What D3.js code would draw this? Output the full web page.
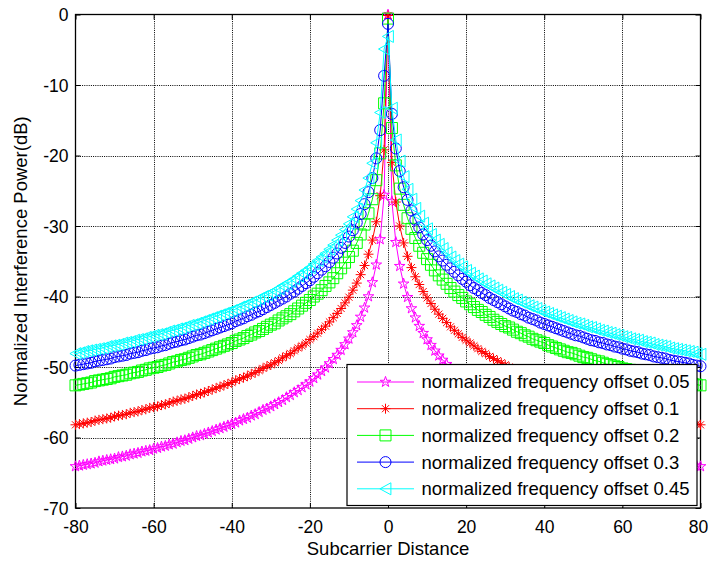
<!DOCTYPE html>
<html>
<head>
<meta charset="utf-8">
<script src="https://cdn.jsdelivr.net/npm/d3@7"></script>
<style>
  html, body { margin: 0; padding: 0; background: #fff; }
  svg { display: block; font-family: Arial, "Liberation Sans", Helvetica, sans-serif; }
</style>
</head>
<body>
<svg id="chart" width="708" height="561"></svg>
<script>
// Subcarrier distance k = -80 … 80 (one sample per subcarrier)
const subcarrierDistance = d3.range(-80, 81);

const xTicks = [-80, -60, -40, -20, 0, 20, 40, 60, 80];
const yTicks = [0, -10, -20, -30, -40, -50, -60, -70];

const seriesLabels = [
  "normalized frequency offset 0.05",
  "normalized frequency offset 0.1",
  "normalized frequency offset 0.2",
  "normalized frequency offset 0.3",
  "normalized frequency offset 0.45"
];
const seriesColors = ["#ff00ff", "#ff0000", "#00ff00", "#0000ff", "#00ffff"];
const seriesMarkers = ["pentagram", "asterisk", "square", "circle", "triangleLeft"];

// Interference power (dB) per subcarrier distance, k = -80 … 80
const offset005 = [
  -64.1, -64.0, -63.9, -63.8, -63.7, -63.6, -63.4, -63.3, -63.2, -63.1,   // -80 … -71
  -63.0, -62.8, -62.7, -62.6, -62.4, -62.3, -62.2, -62.0, -61.9, -61.8,   // -70 … -61
  -61.6, -61.5, -61.3, -61.2, -61.0, -60.9, -60.7, -60.5, -60.4, -60.2,   // -60 … -51
  -60.0, -59.8, -59.7, -59.5, -59.3, -59.1, -58.9, -58.7, -58.5, -58.3,   // -50 … -41
  -58.1, -57.9, -57.6, -57.4, -57.2, -56.9, -56.7, -56.4, -56.1, -55.9,   // -40 … -31
  -55.6, -55.3, -55.0, -54.7, -54.3, -54.0, -53.6, -53.3, -52.9, -52.5,   // -30 … -21
  -52.1, -51.6, -51.1, -50.6, -50.1, -49.5, -48.9, -48.3, -47.6, -46.8,   // -20 … -11
  -46.0, -45.1, -44.1, -42.9, -41.6, -40.0, -38.0, -35.5, -31.9, -25.6,   // -10 … -1
  -0.04,                                                                  // 0
  -26.5, -32.3, -35.7, -38.2, -40.1, -41.7, -43.0, -44.2, -45.2, -46.1,   // 1 … 10
  -46.9, -47.7, -48.4, -49.0, -49.6, -50.2, -50.7, -51.2, -51.7, -52.1,   // 11 … 20
  -52.5, -52.9, -53.3, -53.7, -54.0, -54.4, -54.7, -55.0, -55.3, -55.6,   // 21 … 30
  -55.9, -56.2, -56.4, -56.7, -56.9, -57.2, -57.4, -57.7, -57.9, -58.1,   // 31 … 40
  -58.3, -58.5, -58.7, -58.9, -59.1, -59.3, -59.5, -59.7, -59.9, -60.0,   // 41 … 50
  -60.2, -60.4, -60.5, -60.7, -60.9, -61.0, -61.2, -61.3, -61.5, -61.6,   // 51 … 60
  -61.8, -61.9, -62.0, -62.2, -62.3, -62.5, -62.6, -62.7, -62.8, -63.0,   // 61 … 70
  -63.1, -63.2, -63.3, -63.4, -63.6, -63.7, -63.8, -63.9, -64.0, -64.1    // 71 … 80
];

const offset01 = [
  -58.2, -58.1, -58.0, -57.9, -57.8, -57.6, -57.5, -57.4, -57.3, -57.2,
  -57.0, -56.9, -56.8, -56.7, -56.5, -56.4, -56.3, -56.1, -56.0, -55.8,
  -55.7, -55.6, -55.4, -55.3, -55.1, -54.9, -54.8, -54.6, -54.5, -54.3,
  -54.1, -53.9, -53.8, -53.6, -53.4, -53.2, -53.0, -52.8, -52.6, -52.4,
  -52.2, -51.9, -51.7, -51.5, -51.3, -51.0, -50.8, -50.5, -50.2, -49.9,
  -49.7, -49.4, -49.1, -48.7, -48.4, -48.1, -47.7, -47.3, -47.0, -46.6,
  -46.1, -45.7, -45.2, -44.7, -44.2, -43.6, -43.0, -42.4, -41.7, -40.9,
  -40.1, -39.1, -38.1, -36.9, -35.6, -34.0, -32.0, -29.4, -25.7, -19.2,
  -0.14,
  -21.0, -26.6, -30.0, -32.4, -34.3, -35.9, -37.2, -38.3, -39.3, -40.2,
  -41.0, -41.8, -42.5, -43.1, -43.7, -44.3, -44.8, -45.3, -45.8, -46.2,
  -46.6, -47.0, -47.4, -47.8, -48.1, -48.5, -48.8, -49.1, -49.4, -49.7,
  -50.0, -50.3, -50.5, -50.8, -51.0, -51.3, -51.5, -51.8, -52.0, -52.2,
  -52.4, -52.6, -52.8, -53.0, -53.2, -53.4, -53.6, -53.8, -54.0, -54.1,
  -54.3, -54.5, -54.6, -54.8, -55.0, -55.1, -55.3, -55.4, -55.6, -55.7,
  -55.9, -56.0, -56.1, -56.3, -56.4, -56.5, -56.7, -56.8, -56.9, -57.1,
  -57.2, -57.3, -57.4, -57.5, -57.7, -57.8, -57.9, -58.0, -58.1, -58.2
];

const offset02 = [
  -52.6, -52.5, -52.4, -52.3, -52.2, -52.0, -51.9, -51.8, -51.7, -51.6,
  -51.4, -51.3, -51.2, -51.1, -50.9, -50.8, -50.7, -50.5, -50.4, -50.2,
  -50.1, -50.0, -49.8, -49.7, -49.5, -49.3, -49.2, -49.0, -48.9, -48.7,
  -48.5, -48.3, -48.2, -48.0, -47.8, -47.6, -47.4, -47.2, -47.0, -46.8,
  -46.6, -46.3, -46.1, -45.9, -45.6, -45.4, -45.1, -44.9, -44.6, -44.3,
  -44.0, -43.8, -43.4, -43.1, -42.8, -42.5, -42.1, -41.7, -41.3, -40.9,
  -40.5, -40.0, -39.6, -39.1, -38.5, -38.0, -37.4, -36.7, -36.0, -35.2,
  -34.4, -33.5, -32.4, -31.2, -29.8, -28.2, -26.2, -23.5, -19.7, -12.6,
  -0.58,
  -16.1, -21.4, -24.7, -27.0, -28.9, -30.4, -31.7, -32.8, -33.8, -34.7,
  -35.5, -36.3, -37.0, -37.6, -38.2, -38.8, -39.3, -39.8, -40.2, -40.7,
  -41.1, -41.5, -41.9, -42.2, -42.6, -42.9, -43.3, -43.6, -43.9, -44.2,
  -44.4, -44.7, -45.0, -45.2, -45.5, -45.7, -46.0, -46.2, -46.4, -46.6,
  -46.9, -47.1, -47.3, -47.5, -47.7, -47.9, -48.0, -48.2, -48.4, -48.6,
  -48.7, -48.9, -49.1, -49.2, -49.4, -49.6, -49.7, -49.9, -50.0, -50.2,
  -50.3, -50.4, -50.6, -50.7, -50.8, -51.0, -51.1, -51.2, -51.4, -51.5,
  -51.6, -51.7, -51.9, -52.0, -52.1, -52.2, -52.3, -52.4, -52.5, -52.6
];

const offset03 = [
  -49.8, -49.7, -49.6, -49.5, -49.4, -49.2, -49.1, -49.0, -48.9, -48.8,
  -48.6, -48.5, -48.4, -48.3, -48.1, -48.0, -47.9, -47.7, -47.6, -47.4,
  -47.3, -47.2, -47.0, -46.9, -46.7, -46.5, -46.4, -46.2, -46.1, -45.9,
  -45.7, -45.5, -45.4, -45.2, -45.0, -44.8, -44.6, -44.4, -44.2, -44.0,
  -43.8, -43.5, -43.3, -43.1, -42.8, -42.6, -42.3, -42.1, -41.8, -41.5,
  -41.2, -40.9, -40.6, -40.3, -40.0, -39.6, -39.3, -38.9, -38.5, -38.1,
  -37.7, -37.2, -36.7, -36.2, -35.7, -35.1, -34.5, -33.9, -33.1, -32.4,
  -31.5, -30.6, -29.5, -28.3, -26.9, -25.2, -23.2, -20.4, -16.4, -8.7,
  -1.33,
  -14.1, -19.0, -22.2, -24.5, -26.3, -27.8, -29.1, -30.2, -31.2, -32.0,
  -32.8, -33.6, -34.3, -34.9, -35.5, -36.0, -36.5, -37.0, -37.5, -37.9,
  -38.4, -38.8, -39.1, -39.5, -39.8, -40.2, -40.5, -40.8, -41.1, -41.4,
  -41.7, -42.0, -42.2, -42.5, -42.7, -43.0, -43.2, -43.4, -43.7, -43.9,
  -44.1, -44.3, -44.5, -44.7, -44.9, -45.1, -45.3, -45.5, -45.6, -45.8,
  -46.0, -46.2, -46.3, -46.5, -46.6, -46.8, -46.9, -47.1, -47.2, -47.4,
  -47.5, -47.7, -47.8, -47.9, -48.1, -48.2, -48.3, -48.5, -48.6, -48.7,
  -48.8, -49.0, -49.1, -49.2, -49.3, -49.4, -49.5, -49.7, -49.8, -49.9
];

const offset045 = [
  -48.1, -48.0, -47.8, -47.7, -47.6, -47.5, -47.4, -47.3, -47.1, -47.0,
  -46.9, -46.8, -46.6, -46.5, -46.4, -46.2, -46.1, -46.0, -45.8, -45.7,
  -45.5, -45.4, -45.3, -45.1, -44.9, -44.8, -44.6, -44.5, -44.3, -44.1,
  -44.0, -43.8, -43.6, -43.4, -43.2, -43.0, -42.8, -42.6, -42.4, -42.2,
  -42.0, -41.8, -41.5, -41.3, -41.1, -40.8, -40.6, -40.3, -40.0, -39.8,
  -39.5, -39.2, -38.9, -38.5, -38.2, -37.9, -37.5, -37.1, -36.7, -36.3,
  -35.9, -35.4, -34.9, -34.4, -33.9, -33.3, -32.7, -32.0, -31.3, -30.5,
  -29.7, -28.7, -27.6, -26.4, -24.9, -23.2, -21.1, -18.2, -13.9, -4.9,
  -3.11,
  -13.3, -17.8, -20.8, -23.0, -24.8, -26.2, -27.5, -28.6, -29.6, -30.4,
  -31.2, -32.0, -32.6, -33.2, -33.8, -34.4, -34.9, -35.4, -35.8, -36.3,
  -36.7, -37.1, -37.5, -37.8, -38.2, -38.5, -38.8, -39.1, -39.4, -39.7,
  -40.0, -40.3, -40.5, -40.8, -41.0, -41.3, -41.5, -41.7, -42.0, -42.2,
  -42.4, -42.6, -42.8, -43.0, -43.2, -43.4, -43.6, -43.8, -43.9, -44.1,
  -44.3, -44.4, -44.6, -44.8, -44.9, -45.1, -45.2, -45.4, -45.5, -45.7,
  -45.8, -46.0, -46.1, -46.2, -46.4, -46.5, -46.6, -46.8, -46.9, -47.0,
  -47.1, -47.3, -47.4, -47.5, -47.6, -47.7, -47.8, -47.9, -48.1, -48.2
];

const seriesValues = [offset005, offset01, offset02, offset03, offset045];

// ---- layout ----
const svg = d3.select("#chart");
const plot = { left: 75.5, right: 700.5, top: 14.5, bottom: 508 };

const x = d3.scaleLinear().domain([-80, 80]).range([plot.left, plot.right]);
const y = d3.scaleLinear().domain([-70, 0]).range([plot.bottom, plot.top]);

const tickFont = "17.5px";
const labelFont = "18.5px";
const plainNumber = d => String(d);   // ASCII hyphen for negatives

// ---- dotted grid ----
const grid = svg.append("g").attr("stroke", "#000").attr("stroke-width", 1)
  .attr("stroke-dasharray", "1,1.2").attr("fill", "none");
grid.selectAll(".gx").data(xTicks.slice(1, -1)).join("line")
  .attr("x1", d => Math.round(x(d)) + 0.5).attr("x2", d => Math.round(x(d)) + 0.5)
  .attr("y1", plot.top).attr("y2", plot.bottom);
grid.selectAll(".gy").data(yTicks.slice(1, -1)).join("line")
  .attr("y1", d => Math.round(y(d)) + 0.5).attr("y2", d => Math.round(y(d)) + 0.5)
  .attr("x1", plot.left).attr("x2", plot.right);

// ---- axes (inward ticks on all four sides) ----
function styleAxis(g) {
  g.select(".domain").remove();
  g.selectAll(".tick line").attr("stroke", "#000").attr("stroke-width", 1);
  g.selectAll(".tick text").attr("fill", "#000").style("font-size", tickFont)
    .style("font-family", "Arial, 'Liberation Sans', sans-serif");
}

svg.append("g").attr("transform", `translate(0,${plot.bottom})`)
  .call(d3.axisBottom(x).tickValues(xTicks).tickFormat(plainNumber)
    .tickSizeInner(-5).tickSizeOuter(0).tickPadding(0))
  .call(styleAxis)
  .call(g => g.selectAll(".tick text").attr("y", 19).attr("dy", "0.35em")
    .attr("dx", d => d === 80 ? -2.5 : 0));

svg.append("g").attr("transform", `translate(0,${plot.top})`)
  .call(d3.axisTop(x).tickValues(xTicks).tickFormat("").tickSizeInner(-5).tickSizeOuter(0))
  .call(styleAxis);

svg.append("g").attr("transform", `translate(${plot.left},0)`)
  .call(d3.axisLeft(y).tickValues(yTicks).tickFormat(plainNumber)
    .tickSizeInner(-5).tickSizeOuter(0).tickPadding(0))
  .call(styleAxis)
  .call(g => g.selectAll(".tick text").attr("x", -7).attr("dy", "0.35em"));

svg.append("g").attr("transform", `translate(${plot.right},0)`)
  .call(d3.axisRight(y).tickValues(yTicks).tickFormat("").tickSizeInner(-5).tickSizeOuter(0))
  .call(styleAxis);

// axes box
svg.append("rect")
  .attr("x", plot.left).attr("y", plot.top)
  .attr("width", plot.right - plot.left).attr("height", plot.bottom - plot.top)
  .attr("fill", "none").attr("stroke", "#000").attr("stroke-width", 1.3);

// ---- axis titles ----
svg.append("text")
  .attr("x", (plot.left + plot.right) / 2).attr("y", 549)
  .attr("text-anchor", "middle").attr("dy", "0.35em")
  .style("font-size", labelFont).attr("fill", "#000")
  .text("Subcarrier Distance");

svg.append("text")
  .attr("transform", `translate(21,${(plot.top + plot.bottom) / 2}) rotate(-90)`)
  .attr("text-anchor", "middle").attr("dy", "0.35em")
  .style("font-size", labelFont).attr("fill", "#000")
  .text("Normalized Interference Power(dB)");

// ---- marker shapes ----
function markerPath(shape) {
  switch (shape) {
    case "pentagram": {
      const ro = 5.6, ri = ro * 0.382;
      const pts = d3.range(10).map(i => {
        const r = i % 2 === 0 ? ro : ri;
        const a = -Math.PI / 2 + i * Math.PI / 5;
        return [r * Math.cos(a), r * Math.sin(a)];
      });
      return "M" + pts.map(p => p[0].toFixed(2) + "," + p[1].toFixed(2)).join("L") + "Z";
    }
    case "asterisk": {
      const r = 5, d = r * 0.7071;
      return `M${-r},0L${r},0M0,${-r}L0,${r}M${-d},${-d}L${d},${d}M${-d},${d}L${d},${-d}`;
    }
    case "square": return "M-5.5,-5.5L5.5,-5.5L5.5,5.5L-5.5,5.5Z";
    case "circle": return "M5.5,0A5.5,5.5 0 1,1 -5.5,0A5.5,5.5 0 1,1 5.5,0Z";
    case "triangleLeft": return "M-5.6,0L5.4,-6L5.4,6Z";
  }
}

// ---- curves ----
const line = d3.line().x(d => x(d[0])).y(d => y(d[1]));

seriesValues.forEach((vals, i) => {
  const pts = subcarrierDistance.map((k, j) => [k, vals[j]]);
  const g = svg.append("g");
  g.append("path").attr("d", line(pts))
    .attr("fill", "none").attr("stroke", seriesColors[i]).attr("stroke-width", 1);
  g.selectAll("path.m").data(pts).join("path").attr("class", "m")
    .attr("transform", d => `translate(${x(d[0])},${y(d[1])})`)
    .attr("d", markerPath(seriesMarkers[i]))
    .attr("fill", "none").attr("stroke", seriesColors[i]).attr("stroke-width", 1);
});

// ---- legend ----
const legend = { x: 347, y: 364.5, w: 350, h: 141, rowY0: 382, rowStep: 26.7 };
const lg = svg.append("g");
lg.append("rect").attr("x", legend.x).attr("y", legend.y)
  .attr("width", legend.w).attr("height", legend.h)
  .attr("fill", "#fff").attr("stroke", "#000").attr("stroke-width", 1.2);

seriesLabels.forEach((label, i) => {
  const cy = legend.rowY0 + i * legend.rowStep;
  const row = lg.append("g");
  row.append("line").attr("x1", 357).attr("x2", 414).attr("y1", cy).attr("y2", cy)
    .attr("stroke", seriesColors[i]).attr("stroke-width", 1);
  row.append("path").attr("transform", `translate(385.5,${cy})`)
    .attr("d", markerPath(seriesMarkers[i]))
    .attr("fill", "none").attr("stroke", seriesColors[i]).attr("stroke-width", 1);
  row.append("text").attr("x", 421.5).attr("y", cy).attr("dy", "0.35em")
    .style("font-size", labelFont).attr("fill", "#000").text(label);
});
</script>
</body>
</html>
